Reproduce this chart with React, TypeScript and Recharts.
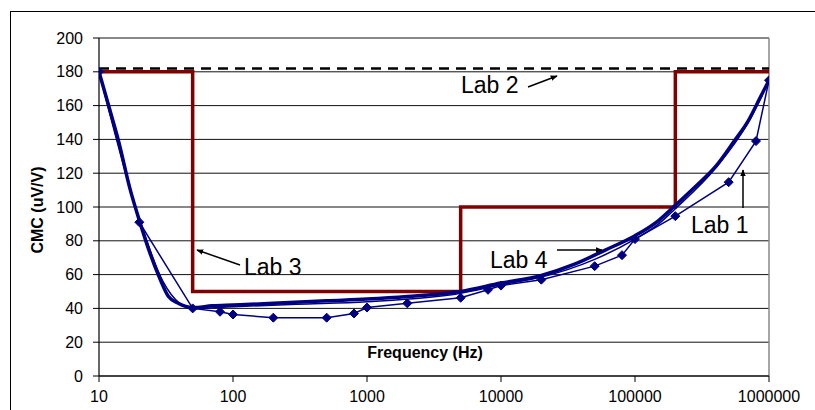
import React from 'react';
import { LineChart, Line, XAxis, YAxis, CartesianGrid, ReferenceLine } from 'recharts';

// axis ticks
const freqTicks = [10, 100, 1000, 10000, 100000, 1000000];
const cmcTicks = [0, 20, 40, 60, 80, 100, 120, 140, 160, 180, 200];

// Lab 1 (thin line with diamond markers)
const lab1Freq = [10, 20, 50, 80, 100, 200, 500, 800, 1000, 2000, 5000, 8000, 10000, 20000, 50000, 80000, 100000, 200000, 500000, 800000, 1000000];
const lab1Cmc = [180, 91, 40, 38, 36.4, 34.5, 34.5, 37, 40.5, 43, 46.3, 51, 53.5, 57, 65, 71.5, 81, 94.6, 114.7, 139, 175];

// Lab 2 (dashed limit)
const lab2Freq = [10, 1000000];
const lab2Cmc = [182, 182];

// Lab 3 (step limit)
const lab3Freq = [10, 50, 5000, 200000, 1000000];
const lab3Cmc = [180, 50, 100, 180, 180];

// Lab 4 (thick curve, two runs)
const lab4Freq = [10, 12, 14, 17, 20, 23, 28, 33, 39, 50, 70, 100, 200, 500, 1000, 2000, 5000, 10000, 20000, 35000, 60000, 100000, 150000, 200000, 300000, 400000, 550000, 700000, 850000, 1000000];
const lab4Cmc = [180, 158, 139, 111, 92, 77, 59, 47, 43, 40.5, 41.5, 42, 43, 44.5, 45.5, 47, 50, 55, 59.5, 66, 74.5, 83, 92, 101, 114, 124, 139, 151, 164, 175];
const lab4bFreq = [10, 20, 30, 40, 50, 100, 300, 1000, 5000, 10000, 20000, 50000, 100000, 150000, 200000, 400000, 700000, 1000000];
const lab4bCmc = [180, 93, 56, 43, 40, 41, 42.5, 44, 49, 54, 58.5, 69, 81, 90, 99, 123, 150, 175];

const toRows = (f: number[], v: number[]) => f.map((x, i) => ({ f: x, v: v[i] }));

const lab1 = toRows(lab1Freq, lab1Cmc);
const lab2 = toRows(lab2Freq, lab2Cmc);
const lab3 = toRows(lab3Freq, lab3Cmc);
const lab4 = toRows(lab4Freq, lab4Cmc);
const lab4b = toRows(lab4bFreq, lab4bCmc);

const font = '"Liberation Sans", Arial, sans-serif';
const navy = '#000080';

const Diamond = (props: any) => {
  const { cx, cy, index } = props;
  if (cx == null || cy == null) return <g key={index} />;
  const r = 4.5;
  return (
    <polygon
      key={index}
      points={`${cx},${cy - r} ${cx + r},${cy} ${cx},${cy + r} ${cx - r},${cy}`}
      fill={navy}
      stroke={navy}
    />
  );
};

const Arrow = ({ x1, y1, x2, y2 }: { x1: number; y1: number; x2: number; y2: number }) => (
  <line x1={x1} y1={y1} x2={x2} y2={y2} stroke="#000" strokeWidth={1.5} markerEnd="url(#head)" />
);

export default function App() {
  return (
    <div style={{ position: 'absolute', left: 0, top: 0, width: 815, height: 410, background: '#fff', fontFamily: font }}>
      <div style={{ position: 'absolute', left: 10, top: 11, width: 805, height: 399, borderLeft: '1.5px solid #000', borderTop: '1.5px solid #000', boxSizing: 'border-box' }} />
      <div style={{ position: 'absolute', left: 0, top: 0 }}>
        <LineChart width={815} height={410} margin={{ top: 38, right: 46, left: 0, bottom: 0 }}>
          <CartesianGrid vertical={false} stroke="#111" strokeWidth={1} />
          <XAxis
            dataKey="f"
            type="number"
            scale="log"
            domain={[10, 1000000]}
            ticks={freqTicks}
            allowDataOverflow
            height={34}
            tickSize={6}
            tickMargin={9}
            axisLine={{ stroke: '#000', strokeWidth: 1.2 }}
            tickLine={{ stroke: '#000' }}
            tick={{ fill: '#000', fontSize: 16, fontFamily: font }}
            interval={0}
          />
          <YAxis
            type="number"
            domain={[0, 200]}
            ticks={cmcTicks}
            width={99}
            tickSize={6}
            tickMargin={10}
            axisLine={{ stroke: '#000', strokeWidth: 1.2 }}
            tickLine={{ stroke: '#000' }}
            tick={{ fill: '#000', fontSize: 16, fontFamily: font }}
            interval={0}
          />
          <ReferenceLine y={200} stroke="#888" strokeWidth={1.5} />
          <ReferenceLine x={1000000} stroke="#888" strokeWidth={1.5} />
          <Line data={lab3} dataKey="v" type="stepAfter" stroke="#800000" strokeWidth={3.5} dot={false} isAnimationActive={false} />
          <Line data={lab2} dataKey="v" type="linear" stroke="#000" strokeWidth={2.5} strokeDasharray="10 7" dot={false} isAnimationActive={false} />
          <Line data={lab4} dataKey="v" type="monotone" stroke={navy} strokeWidth={3.5} dot={false} isAnimationActive={false} />
          <Line data={lab4b} dataKey="v" type="monotone" stroke={navy} strokeWidth={1.5} dot={false} isAnimationActive={false} />
          <Line data={lab1} dataKey="v" type="linear" stroke={navy} strokeWidth={1.5} dot={Diamond} isAnimationActive={false} />
        </LineChart>
      </div>
      <svg width={815} height={410} style={{ position: 'absolute', left: 0, top: 0, pointerEvents: 'none' }}>
        <defs>
          <marker id="head" viewBox="0 0 10 10" refX="9" refY="5" markerWidth="7" markerHeight="7" orient="auto-start-reverse" markerUnits="userSpaceOnUse">
            <path d="M0,1 L10,5 L0,9 z" fill="#000" />
          </marker>
        </defs>
        <g fontFamily={font} fill="#000">
          <text x={461} y={93} fontSize={23}>Lab 2</text>
          <text x={244} y={275} fontSize={23}>Lab 3</text>
          <text x={490} y={268} fontSize={23}>Lab 4</text>
          <text x={691} y={233} fontSize={23}>Lab 1</text>
          <text x={425} y={358} fontSize={16} fontWeight="bold" textAnchor="middle">Frequency (Hz)</text>
          <text x={0} y={0} fontSize={16} fontWeight="bold" textAnchor="middle" transform="translate(43,210) rotate(-90)">CMC (uV/V)</text>
        </g>
        <Arrow x1={528} y1={87} x2={557} y2={76} />
        <Arrow x1={240} y1={265} x2={197} y2={250} />
        <Arrow x1={557} y1={250} x2={602} y2={250} />
        <Arrow x1={743} y1={208} x2={743} y2={170} />
      </svg>
    </div>
  );
}
